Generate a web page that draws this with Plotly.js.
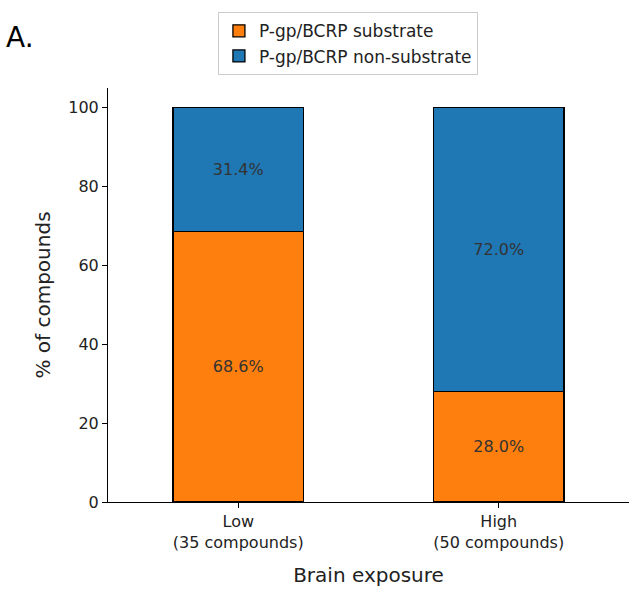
<!DOCTYPE html>
<html>
<head>
<meta charset="utf-8">
<script src="https://cdn.plot.ly/plotly-3.0.1.min.js"></script>
<style>body{margin:0;background:#fff}</style>
</head>
<body>
<div id="chart" style="width:641px;height:601px"></div>
<script>
var categories = ['Low<br>(35 compounds)', 'High<br>(50 compounds)'];
var substrate = [68.6, 28.0];
var nonSubstrate = [31.4, 72.0];

var fnt = 'DejaVu Sans, sans-serif';

var traceSub = {
  x: categories, y: substrate, type: 'bar', name: 'P-gp/BCRP substrate',
  marker: {color: '#ff7f0e', line: {color: '#000', width: 1.3}},
  text: substrate.map(function(v){return v.toFixed(1) + '%';}),
  textposition: 'inside', insidetextanchor: 'middle',
  textfont: {color: '#333', size: 16, family: fnt}, width: 0.5
};
var traceNon = {
  x: categories, y: nonSubstrate, type: 'bar', name: 'P-gp/BCRP non-substrate',
  marker: {color: '#1f77b4', line: {color: '#000', width: 1.3}},
  text: nonSubstrate.map(function(v){return v.toFixed(1) + '%';}),
  textposition: 'inside', insidetextanchor: 'middle',
  textfont: {color: '#333', size: 16, family: fnt}, width: 0.5
};

var layout = {
  barmode: 'stack',
  margin: {l: 108, r: 12, t: 86, b: 99},
  font: {family: fnt, size: 16, color: '#222'},
  paper_bgcolor: '#fff', plot_bgcolor: '#fff',
  xaxis: {
    range: [-0.5, 1.5], showline: true, linecolor: '#000', ticks: 'outside',
    ticklen: 5, tickcolor: '#000', tickfont: {size: 16},
    title: {text: 'Brain exposure', font: {size: 20}, standoff: 16}
  },
  yaxis: {
    range: [0, 105], showline: true, linecolor: '#000', ticks: 'outside',
    ticklen: 5, tickcolor: '#000', showgrid: false, zeroline: false,
    tickvals: [0, 20, 40, 60, 80, 100], tickfont: {size: 16},
    title: {text: '% of compounds', font: {size: 20}, standoff: 12}
  },
  legend: {
    x: 0.211, y: 1.183, xanchor: 'left', yanchor: 'top', traceorder: 'normal',
    bordercolor: '#ccc', borderwidth: 1, font: {size: 17}
  },
  annotations: [{
    text: 'A.', xref: 'paper', yref: 'paper', x: -0.2, y: 1.123,
    xanchor: 'left', yanchor: 'middle', showarrow: false,
    font: {size: 28, color: '#000'}
  }],
  showlegend: true
};

Plotly.newPlot('chart', [traceSub, traceNon], layout, {staticPlot: true});
</script>
</body>
</html>
